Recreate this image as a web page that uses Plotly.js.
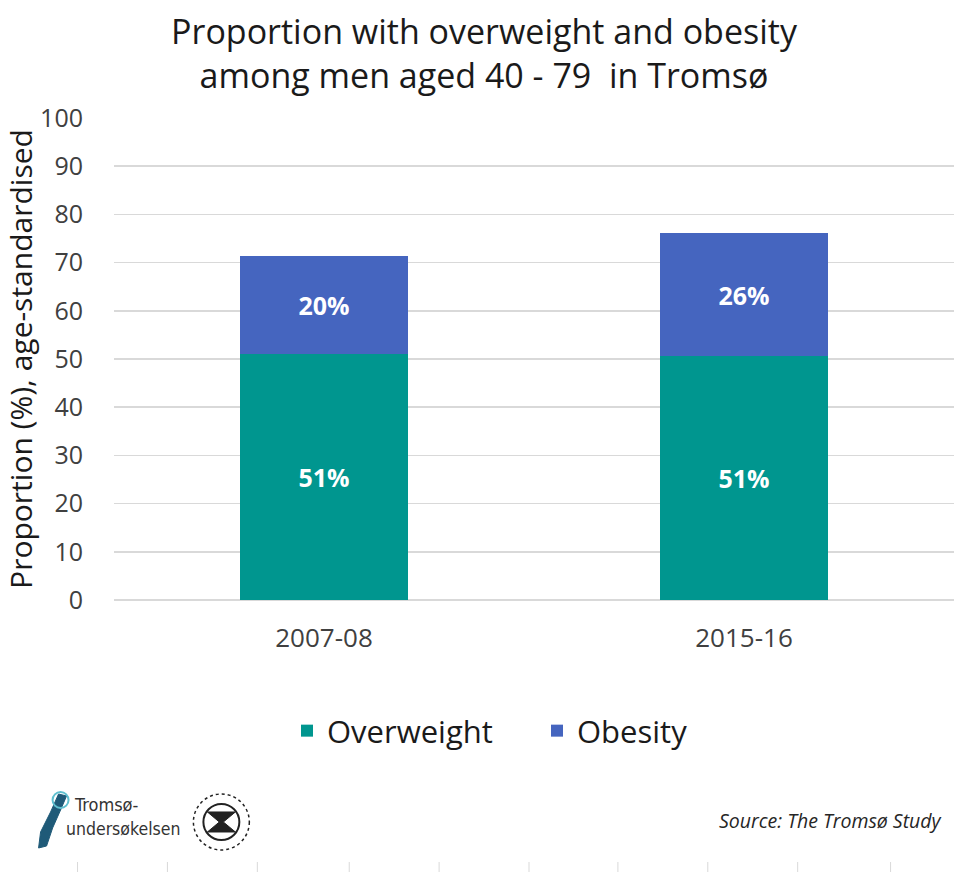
<!DOCTYPE html>
<html>
<head>
<meta charset="utf-8">
<script src="https://cdn.plot.ly/plotly-3.0.1.min.js"></script>
<style>html,body{margin:0;padding:0;background:#fff;}#chart{width:970px;height:874px;}</style>
</head>
<body>
<div id="chart"></div>
<script>
const categories = ["2007-08", "2015-16"];
const overweight = [51.0, 50.6];
const obesity = [20.4, 25.5];
const overweightLabels = ["51%", "51%"];
const obesityLabels = ["20%", "26%"];
const yTicks = [0, 10, 20, 30, 40, 50, 60, 70, 80, 90, 100];

const FONT = "'Open Sans', Lato, sans-serif";
const labelFont = {family: FONT, size: 25, color: "#ffffff", weight: "bold"};

const traces = [
  {
    type: "bar", name: "Overweight", x: categories, y: overweight,
    text: overweightLabels, textposition: "inside", insidetextanchor: "middle",
    textfont: labelFont, marker: {color: "#00968F"}, hoverinfo: "skip"
  },
  {
    type: "bar", name: "Obesity", x: categories, y: obesity,
    text: obesityLabels, textposition: "inside", insidetextanchor: "middle",
    textfont: labelFont, marker: {color: "#4565BF"}, hoverinfo: "skip"
  }
];

const PL = 113.5, PW = 841, PB = 600, PH = 482;
const px2x = px => (px - PL) / PW;
const py2y = py => -(py - PB) / PH;
const poly = pts => pts.map((p,i)=>(i?"L":"M")+px2x(p[0]).toFixed(4)+","+py2y(p[1]).toFixed(4)).join(" ")+" Z";

const bottomTicks = [77, 167, 257, 349, 439, 529, 618, 708, 798, 891];
const shapes = bottomTicks.map(px => ({
  type: "line", xref: "paper", yref: "paper",
  x0: px2x(px), x1: px2x(px), y0: py2y(862), y1: py2y(872),
  line: {color: "#d9d9d9", width: 1}
}));
// university seal
shapes.push({
  type: "circle", xref: "paper", yref: "paper",
  x0: px2x(193), x1: px2x(249), y0: py2y(850), y1: py2y(794),
  line: {color: "#222", width: 1.5, dash: "dot"}
});
shapes.push({
  type: "circle", xref: "paper", yref: "paper",
  x0: px2x(203), x1: px2x(239), y0: py2y(840), y1: py2y(804),
  line: {color: "#222", width: 2}
});
shapes.push({
  type: "path", xref: "paper", yref: "paper",
  path: poly([[207,812],[235,812],[223,822],[235,832],[207,832],[219,822]]),
  fillcolor: "#222", line: {color: "#222", width: 1}
});
// map logo
shapes.push({
  type: "path", xref: "paper", yref: "paper",
  path: poly([[58,794],[66,796],[60,810],[52,828],[46,846],[38,848],[40,832],[50,812]]),
  fillcolor: "#1F5A78", line: {color: "#1F5A78", width: 1}
});
shapes.push({
  type: "circle", xref: "paper", yref: "paper",
  x0: px2x(52), x1: px2x(68), y0: py2y(808), y1: py2y(792),
  line: {color: "#5FC0D0", width: 2}
});

const layout = {
  width: 970, height: 874,
  paper_bgcolor: "#ffffff", plot_bgcolor: "#ffffff",
  margin: {l: PL, r: 970 - PL - PW, t: 118, b: 874 - PB},
  barmode: "stack", bargap: 0.6,
  font: {family: FONT, color: "#262626"},
  title: {
    text: "Proportion with overweight and obesity<br>among men aged 40 - 79  in Tromsø",
    x: 484 / 970, xanchor: "center", y: 1 - 44 / 874, yanchor: "middle",
    font: {family: FONT, size: 34, color: "#1a1a1a"}
  },
  xaxis: {
    type: "category", showgrid: false, zeroline: false, showline: false,
    ticks: "", ticklabelstandoff: 20,
    tickfont: {family: FONT, size: 26, color: "#404040"}
  },
  yaxis: {
    range: [0, 100], tickvals: yTicks, ticktext: yTicks.map(String),
    showgrid: true, gridcolor: "#d9d9d9", gridwidth: 1.5,
    zeroline: true, zerolinecolor: "#d9d9d9", zerolinewidth: 1.5,
    showline: false, ticks: "", ticklabelstandoff: 30,
    tickfont: {family: FONT, size: 25, color: "#404040"},
    title: {text: "Proportion (%), age-standardised", standoff: 0,
      font: {family: FONT, size: 30, color: "#1a1a1a"}}
  },
  legend: {
    orientation: "h", xref: "container", yref: "container",
    x: 287 / 970, xanchor: "left", y: 1 - 731 / 874, yanchor: "middle",
    font: {family: FONT, size: 31, color: "#1a1a1a"},
    entrywidth: 205, entrywidthmode: "pixels",
    itemwidth: 30, traceorder: "normal"
  },
  shapes: shapes,
  annotations: [
    {text: "<i>Source: The Tromsø Study</i>", xref: "paper", yref: "paper",
      x: px2x(944), xanchor: "right", y: py2y(820), yanchor: "middle",
      showarrow: false, font: {family: FONT, size: 19.5, color: "#262626"}},
    {text: "Tromsø-", xref: "paper", yref: "paper", align: "left",
      x: px2x(71), xanchor: "left", y: py2y(804), yanchor: "middle",
      showarrow: false, font: {family: "'DejaVu Sans Condensed', 'DejaVu Sans', sans-serif", size: 18, color: "#333"}},
    {text: "undersøkelsen", xref: "paper", yref: "paper", align: "left",
      x: px2x(63), xanchor: "left", y: py2y(829), yanchor: "middle",
      showarrow: false, font: {family: "'DejaVu Sans Condensed', 'DejaVu Sans', sans-serif", size: 17.5, color: "#333"}}
  ]
};

Plotly.newPlot("chart", traces, layout, {displayModeBar: false, staticPlot: true});
</script>
</body>
</html>
